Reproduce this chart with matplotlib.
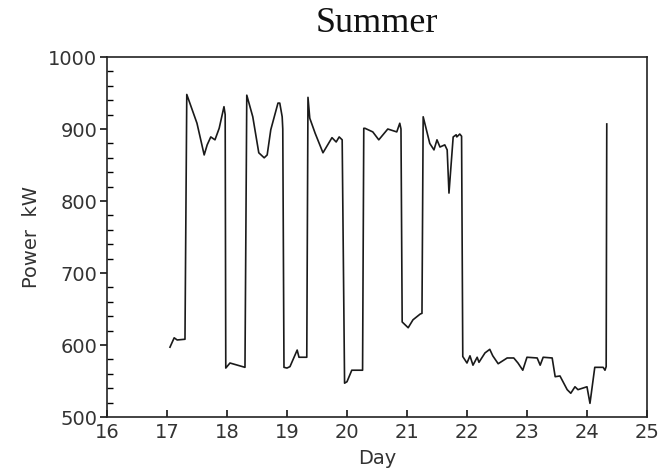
import matplotlib.pyplot as plt
from matplotlib.ticker import MultipleLocator

# Summer load profile
day = [17.05, 17.12, 17.17, 17.30, 17.33, 17.50, 17.62, 17.67, 17.73, 17.80, 17.87, 17.95,
       17.97, 17.98, 18.05, 18.30,
       18.33, 18.43, 18.53, 18.62, 18.67, 18.73, 18.85, 18.88, 18.92, 18.93,
       18.95, 19.00, 19.05, 19.17, 19.20, 19.33,
       19.35, 19.38, 19.47, 19.60, 19.75, 19.82, 19.87, 19.92,
       19.96, 20.00, 20.08, 20.26,
       20.28, 20.30, 20.43, 20.53, 20.68, 20.83, 20.88, 20.90,
       20.92, 21.02, 21.10, 21.22, 21.25,
       21.27, 21.38, 21.45, 21.50, 21.55, 21.63, 21.67, 21.70, 21.77, 21.82, 21.83, 21.88, 21.91,
       21.93, 22.00, 22.05, 22.10, 22.17, 22.20, 22.30, 22.38, 22.43, 22.52, 22.67, 22.78, 22.85,
       22.93, 23.00, 23.17, 23.22, 23.27, 23.42, 23.47, 23.55, 23.67, 23.73, 23.80, 23.85, 24.00,
       24.05, 24.13, 24.27, 24.30, 24.32, 24.33]
power = [597, 610, 607, 608, 948, 908, 864, 878, 889, 885, 901, 931,
         920, 568, 575, 569,
         947, 917, 867, 860, 864, 899, 936, 936, 917, 900,
         569, 568, 570, 593, 583, 583,
         944, 915, 894, 867, 888, 882, 889, 885,
         547, 549, 565, 565,
         901, 901, 896, 885, 900, 896, 908, 900,
         632, 624, 635, 643, 644,
         917, 880, 871, 885, 875, 878, 871, 811, 889, 892, 889, 893, 890,
         584, 575, 585, 572, 583, 576, 589, 594, 585, 574, 582, 582, 575,
         565, 583, 582, 572, 583, 582, 556, 557, 538, 533, 542, 538, 542,
         519, 569, 569, 565, 570, 907]

plt.rcParams['font.family'] = ['DejaVu Sans']
fig = plt.figure(figsize=(6.62, 4.72), dpi=100)
ax = fig.add_axes([0.1616, 0.1165, 0.8157, 0.7627])

ax.plot(day, power, color='#1a1a1a', lw=1.2)

ax.set_xlim(16, 25)
ax.set_ylim(500, 1000)
ax.xaxis.set_major_locator(MultipleLocator(1))
ax.yaxis.set_major_locator(MultipleLocator(100))
ax.yaxis.set_minor_locator(MultipleLocator(20))
ax.tick_params(axis='x', which='major', direction='in', length=5, width=1.1,
               labelsize=14, labelcolor='#333333', pad=4)
ax.tick_params(axis='y', which='major', direction='out', length=5, width=1.1,
               labelsize=14, labelcolor='#333333', pad=2)
ax.tick_params(axis='y', which='minor', direction='in', length=4, width=1.0)
for s in ax.spines.values():
    s.set_linewidth(1.2)
    s.set_color('#222222')

ax.set_xlabel('Day', fontsize=14, color='#333333')
ax.xaxis.set_label_coords(0.5, -0.09)
ax.set_ylabel('Power  kW', fontsize=14, color='#333333', labelpad=5)
ax.set_title('Summer', fontsize=26, family='Liberation Serif', color='#111111', pad=18)

fig.savefig('out.png', dpi=100)
